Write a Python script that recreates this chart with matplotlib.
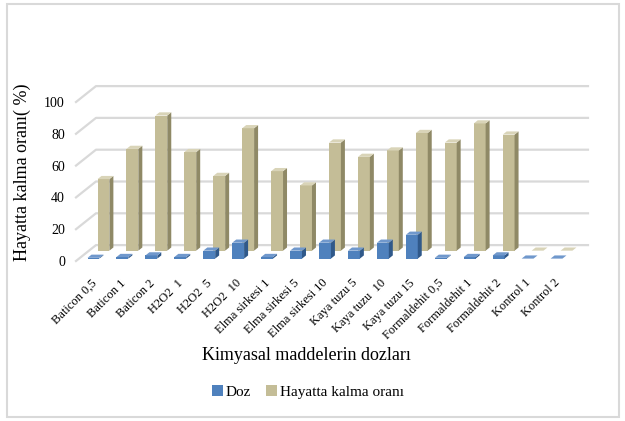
import numpy as np
import matplotlib
matplotlib.use("Agg")
import matplotlib.pyplot as plt
from matplotlib.patches import Polygon, Patch, Rectangle

plt.rcParams['font.family'] = ['Liberation Serif', 'DejaVu Serif']

categories = ['Baticon 0,5', 'Baticon 1', 'Baticon 2', 'H2O2  1', 'H2O2  5', 'H2O2  10',
              'Elma sirkesi 1', 'Elma sirkesi 5', 'Elma sirkesi 10', 'Kaya tuzu 5',
              'Kaya tuzu  10', 'Kaya tuzu 15', 'Formaldehit 0,5', 'Formaldehit 1',
              'Formaldehit 2', 'Kontrol 1', 'Kontrol 2']
doz = [0.5, 1, 2, 1, 5, 10, 1, 5, 10, 5, 10, 15, 0.5, 1, 2, 0, 0]
hayatta = [45, 64, 85, 62, 47, 77, 50, 41, 68, 59, 63, 74, 68, 80, 73, 0, 0]
yticks = [0, 20, 40, 60, 80, 100]

GRID = '#D9D9D9'
# depth direction of the fake 3d box, in data units (x: categories, y: value)
DX, DY = 0.69, 10.0
W = 0.41     # bar face width
BD = 0.2     # bar depth (fraction of box depth)


def draw_series(ax, vals, d0, front, side, top, z):
    n = len(vals)
    xs = np.arange(n) + d0 * DX
    base = d0 * DY
    ax.bar(xs, vals, width=W, bottom=base, color=front, clip_on=False, zorder=z)
    for x, v in zip(xs, vals):
        x0, x1 = x - W / 2, x + W / 2
        t = base + v
        ax.add_patch(Polygon([(x1, base), (x1 + BD * DX, base + BD * DY),
                              (x1 + BD * DX, t + BD * DY), (x1, t)],
                             closed=True, facecolor=side, edgecolor='none',
                             clip_on=False, zorder=z))
        ax.add_patch(Polygon([(x0, t), (x1, t), (x1 + BD * DX, t + BD * DY),
                              (x0 + BD * DX, t + BD * DY)],
                             closed=True, facecolor=top, edgecolor='none',
                             clip_on=False, zorder=z))


fig = plt.figure(figsize=(6.25, 4.21), dpi=100)
ax = fig.add_axes([76 / 625, 160 / 421, 492 / 625, 159 / 421])
n = len(categories)
ax.set_xlim(-0.5, n - 0.5)
ax.set_ylim(0, 100)
for s in ax.spines.values():
    s.set_visible(False)

# walls: gridlines on the side wall and back wall
for v in yticks:
    ax.plot([-0.5, -0.5 + DX, n - 0.5 + DX], [v, v + DY, v + DY],
            color=GRID, lw=1.6, clip_on=False, zorder=1)

draw_series(ax, hayatta, 0.65, '#C4BD97', '#8F8966', '#D9D4B8', 2)
draw_series(ax, doz, 0.15, '#4F81BD', '#30598A', '#7098CC', 3)

ax.set_yticks(yticks)
ax.set_yticklabels([str(v) for v in yticks], fontsize=10)
ax.set_xticks(np.arange(n))
ax.set_xticklabels(categories, fontsize=9, rotation=45, ha='right',
                   rotation_mode='anchor')
ax.tick_params(axis='y', length=0, pad=8)
ax.tick_params(axis='x', length=0, pad=11.5)

fig.text(22.5 / 625, 1 - 172 / 421, 'Hayatta kalma oranı( %)', rotation=90,
         ha='center', va='center', fontsize=13)
fig.text(306 / 625, 1 - 355 / 421, 'Kimyasal maddelerin dozları',
         ha='center', va='center', fontsize=13)

handles = [Patch(facecolor='#4F81BD', label='Doz'),
           Patch(facecolor='#C4BD97', label='Hayatta kalma oranı')]
fig.legend(handles=handles, loc='center', bbox_to_anchor=(308 / 625, 1 - 392 / 421),
           ncol=2, frameon=False, fontsize=11, handlelength=0.7, handleheight=0.7,
           handletextpad=0.2, columnspacing=1.0)

fig.add_artist(Rectangle((7 / 625, 4 / 421), 612 / 625, 413 / 421, fill=False,
                         edgecolor=GRID, lw=1.5, transform=fig.transFigure))

fig.savefig('out.png', dpi=100)
